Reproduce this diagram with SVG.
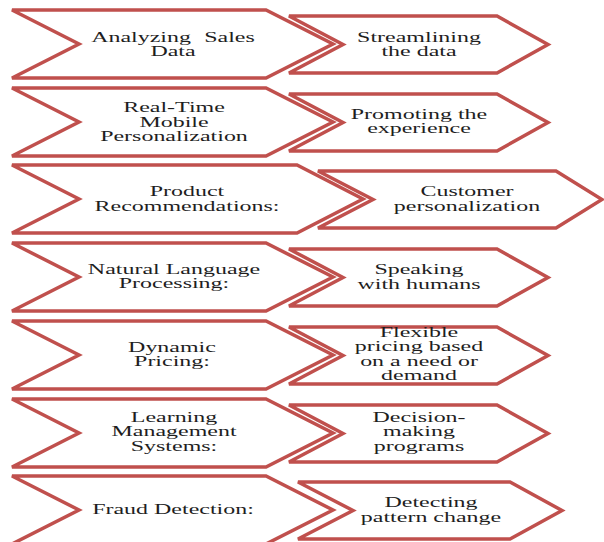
<svg xmlns="http://www.w3.org/2000/svg" width="604" height="542" viewBox="0 0 604 542">
  <style>
    .chev { fill: #ffffff; stroke: #C0504D; stroke-width: 3.5; stroke-linejoin: miter; }
    .lbl { font-family: "Liberation Serif", "Times New Roman", serif; font-size: 14.8px; fill: #1e1e1e; text-anchor: middle; }
  </style>
  <rect width="604" height="542" fill="#ffffff"/>

  <!-- Row 1 -->
  <g id="analyzing-sales-data">
    <polygon class="chev" points="12,10 266,10 333,44 266,78 12,78 79,44"/>
    <text class="lbl" transform="translate(173 0) scale(1.62 1)" word-spacing="4.5"><tspan x="0" y="42">Analyzing Sales</tspan><tspan x="0" y="56">Data</tspan></text>
  </g>
  <g id="streamlining">
    <polygon class="chev" points="289,16 497,16 548,44.5 497,73 289,73 343,44.5"/>
    <text class="lbl" transform="translate(419 0) scale(1.62 1)"><tspan x="0" y="42">Streamlining</tspan><tspan x="0" y="56">the data</tspan></text>
  </g>

  <!-- Row 2 -->
  <g id="real-time-mobile">
    <polygon class="chev" points="12,88 266,88 333,122 266,156 12,156 79,122"/>
    <text class="lbl" transform="translate(174 0) scale(1.62 1)"><tspan x="0" y="112.5">Real-Time</tspan><tspan x="0" y="127">Mobile</tspan><tspan x="0" y="141.5">Personalization</tspan></text>
  </g>
  <g id="promoting">
    <polygon class="chev" points="289,94 497,94 548,122.5 497,151 289,151 343,122.5"/>
    <text class="lbl" transform="translate(419 0) scale(1.62 1)"><tspan x="0" y="119">Promoting the</tspan><tspan x="0" y="133.5">experience</tspan></text>
  </g>

  <!-- Row 3 -->
  <g id="product-recommendations">
    <polygon class="chev" points="12,165 297,165 363,199 297,233 12,233 79,199"/>
    <text class="lbl" transform="translate(187 0) scale(1.62 1)"><tspan x="0" y="196.5">Product</tspan><tspan x="0" y="211">Recommendations:</tspan></text>
  </g>
  <g id="customer-personalization">
    <polygon class="chev" points="318,171 556,171 602,199.5 556,228 318,228 373,199.5"/>
    <text class="lbl" transform="translate(467 0) scale(1.62 1)"><tspan x="0" y="196.5">Customer</tspan><tspan x="0" y="211.5">personalization</tspan></text>
  </g>

  <!-- Row 4 -->
  <g id="natural-language">
    <polygon class="chev" points="12,243 266,243 333,277 266,311 12,311 79,277"/>
    <text class="lbl" transform="translate(174 0) scale(1.62 1)"><tspan x="0" y="274">Natural Language</tspan><tspan x="0" y="288.5">Processing:</tspan></text>
  </g>
  <g id="speaking">
    <polygon class="chev" points="289,249 497,249 548,277.5 497,306 289,306 343,277.5"/>
    <text class="lbl" transform="translate(419 0) scale(1.62 1)"><tspan x="0" y="274">Speaking</tspan><tspan x="0" y="289">with humans</tspan></text>
  </g>

  <!-- Row 5 -->
  <g id="dynamic-pricing">
    <polygon class="chev" points="12,321 266,321 333,355 266,389 12,389 79,355"/>
    <text class="lbl" transform="translate(172 0) scale(1.62 1)"><tspan x="0" y="352">Dynamic</tspan><tspan x="0" y="366.5">Pricing:</tspan></text>
  </g>
  <g id="flexible-pricing">
    <polygon class="chev" points="289,327 497,327 548,355.5 497,384 289,384 343,355.5"/>
    <text class="lbl" transform="translate(419 0) scale(1.62 1)"><tspan x="0" y="337">Flexible</tspan><tspan x="0" y="351.5">pricing based</tspan><tspan x="0" y="366">on a need or</tspan><tspan x="0" y="380.5">demand</tspan></text>
  </g>

  <!-- Row 6 -->
  <g id="learning-management">
    <polygon class="chev" points="12,399 266,399 333,433 266,467 12,467 79,433"/>
    <text class="lbl" transform="translate(174 0) scale(1.62 1)"><tspan x="0" y="422">Learning</tspan><tspan x="0" y="436.5">Management</tspan><tspan x="0" y="451">Systems:</tspan></text>
  </g>
  <g id="decision-making">
    <polygon class="chev" points="289,405 497,405 548,433.5 497,462 289,462 343,433.5"/>
    <text class="lbl" transform="translate(419 0) scale(1.62 1)"><tspan x="0" y="422">Decision-</tspan><tspan x="0" y="436.5">making</tspan><tspan x="0" y="451">programs</tspan></text>
  </g>

  <!-- Row 7 -->
  <g id="fraud-detection">
    <polygon class="chev" points="12,476 266,476 333,510 266,544 12,544 79,510"/>
    <text class="lbl" transform="translate(173 0) scale(1.62 1)"><tspan x="0" y="514">Fraud Detection:</tspan></text>
  </g>
  <g id="pattern-change">
    <polygon class="chev" points="298,482 510,482 562,510.5 510,539 298,539 353,510.5"/>
    <text class="lbl" transform="translate(431 0) scale(1.62 1)"><tspan x="0" y="507.5">Detecting</tspan><tspan x="0" y="522">pattern change</tspan></text>
  </g>

  <!-- no separate connectors: each pair of chevrons nests tip-into-notch -->
  <g id="connectors"/>
</svg>
